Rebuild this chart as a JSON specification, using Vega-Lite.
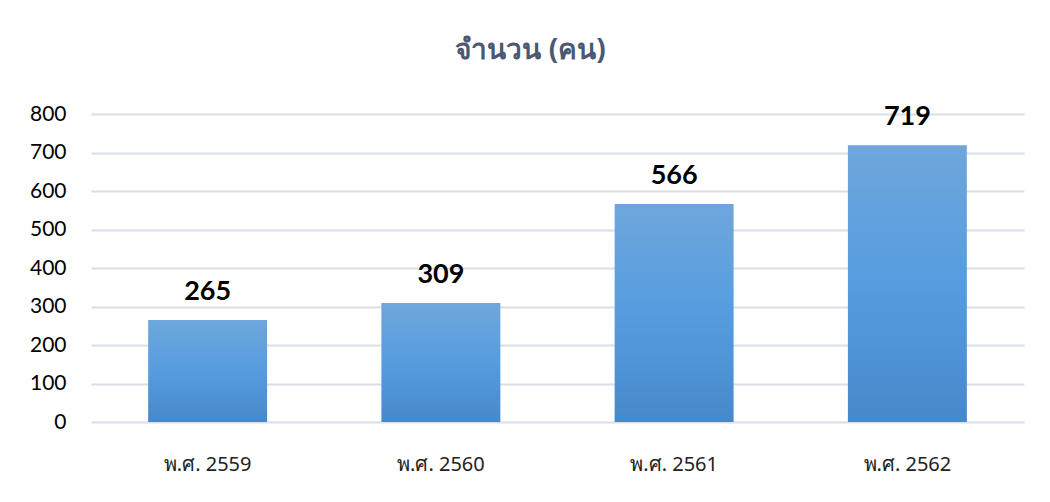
{
  "$schema": "https://vega.github.io/schema/vega-lite/v6.json",
  "width": 933,
  "height": 308,
  "autosize": {"type": "none"},
  "padding": {"left": 91, "top": 114, "right": 26, "bottom": 80},
  "background": "white",
  "title": {
    "text": "จำนวน (คน)",
    "anchor": "middle",
    "dx": -27,
    "offset": 38,
    "fontSize": 28,
    "fontWeight": "bold",
    "color": "#4b5872",
    "font": "Noto Sans"
  },
  "data": {
    "values": [
      {"year": "พ.ศ. 2559", "count": 265},
      {"year": "พ.ศ. 2560", "count": 309},
      {"year": "พ.ศ. 2561", "count": 566},
      {"year": "พ.ศ. 2562", "count": 719}
    ]
  },
  "encoding": {
    "x": {
      "field": "year",
      "type": "nominal",
      "sort": null,
      "scale": {"paddingInner": 0.49, "paddingOuter": 0.245},
      "axis": {
        "title": null,
        "labelAngle": 0,
        "labelFontSize": 20,
        "labelColor": "#222222",
        "labelFont": "Noto Sans",
        "labelPadding": 32,
        "domain": false,
        "ticks": false
      }
    },
    "y": {
      "field": "count",
      "type": "quantitative",
      "scale": {"domain": [0, 800]},
      "axis": {
        "title": null,
        "values": [0, 100, 200, 300, 400, 500, 600, 700, 800],
        "labelFontSize": 21,
        "labelColor": "#000000",
        "labelFont": "Lato",
        "labelPadding": 25,
        "domain": false,
        "ticks": false,
        "gridColor": "#d9dee8",
        "gridWidth": 2
      }
    }
  },
  "layer": [
    {
      "mark": {
        "type": "bar",
        "fill": {
          "gradient": "linear",
          "x1": 0, "y1": 0, "x2": 0, "y2": 1,
          "stops": [
            {"offset": 0, "color": "#6fa6dc"},
            {"offset": 0.5, "color": "#559ddf"},
            {"offset": 1, "color": "#4689cb"}
          ]
        }
      }
    },
    {
      "mark": {
        "type": "text",
        "baseline": "bottom",
        "dy": -14,
        "fontSize": 27,
        "fontWeight": "bold",
        "font": "Lato",
        "color": "#000000"
      },
      "encoding": {"text": {"field": "count", "type": "quantitative"}}
    }
  ],
  "config": {"view": {"stroke": null}}
}
